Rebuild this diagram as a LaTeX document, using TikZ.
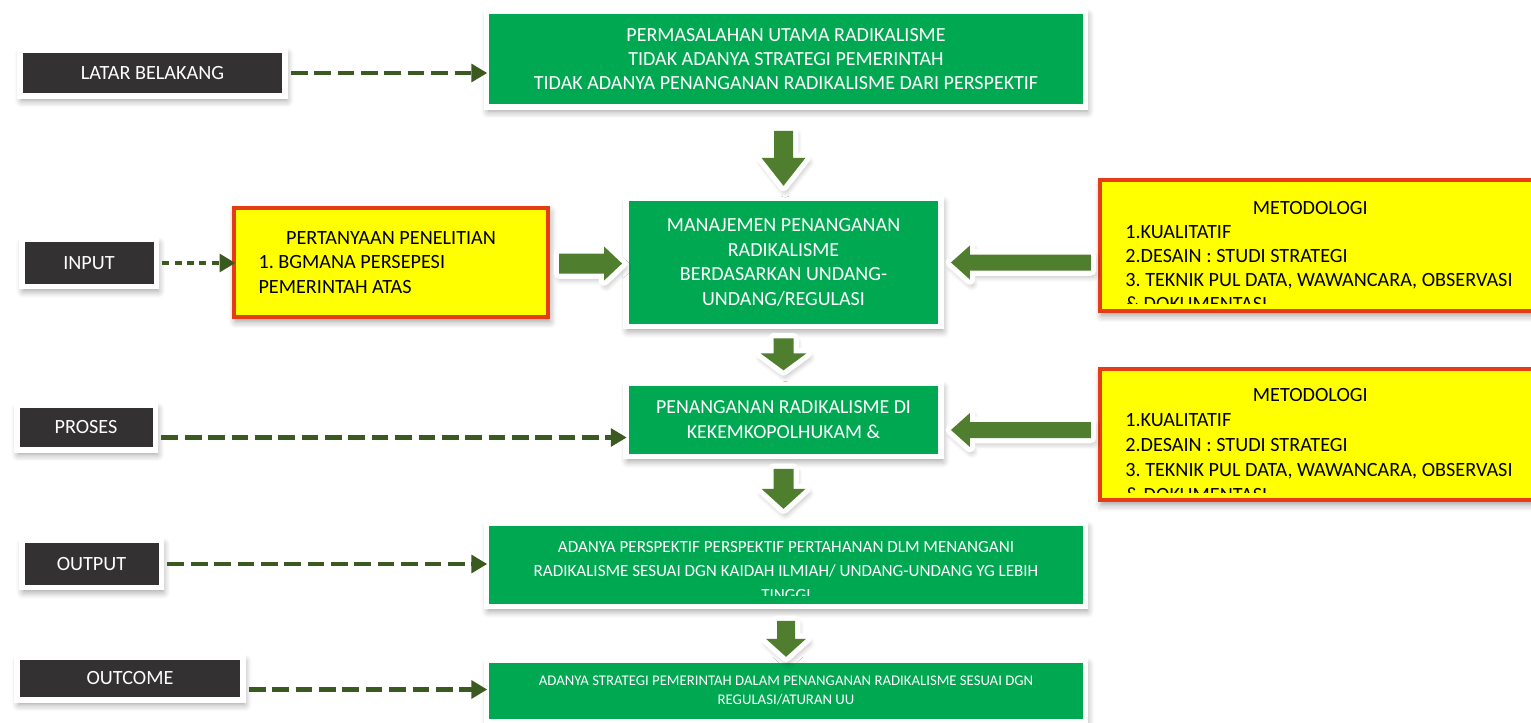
\documentclass[tikz,border=0pt]{standalone}
\usepackage{fontspec}
\setmainfont{Carlito}
\usetikzlibrary{calc}
\usetikzlibrary{arrows.meta}
\usetikzlibrary{shadows.blur}
\definecolor{boxgreen}{HTML}{00A852}
\definecolor{boxdark}{HTML}{333131}
\definecolor{boxyellow}{HTML}{FFFF00}
\definecolor{boxred}{HTML}{E63C16}
\definecolor{lineolive}{HTML}{3B5A22}
\definecolor{arrowgreen}{HTML}{4F7E2E}
\tikzset{softshadow/.style={blur shadow={shadow xshift=1pt, shadow yshift=-2.5pt, shadow blur radius=4pt, shadow blur steps=6, shadow opacity=40}}}
\tikzset{labelbox/.style={rectangle, fill=boxdark, draw=white, line width=3.4pt, text=white, inner sep=0pt, font=\fontsize{11.5}{13}\selectfont, softshadow}}
\tikzset{greenbox/.style={rectangle, fill=boxgreen, draw=white, line width=3.2pt, text=white, inner sep=0pt, align=center, softshadow}}
\tikzset{yellowbox/.style={rectangle, fill=boxyellow, draw=boxred, line width=2.4pt, inner sep=0pt, softshadow}}
\tikzset{metodetxt/.style={anchor=north west, inner sep=0pt, text width=8.2cm, align=flush left}}
\tikzset{dashconn/.style={draw=lineolive, line width=2.8pt, dash pattern=on 9.5pt off 3.8pt, shorten <=1.7pt, shorten >=-2pt, -{Triangle[length=9pt,width=10pt]}}}
\tikzset{dotconn/.style={dashconn, dash pattern=on 4pt off 3pt}}
\tikzset{blockarr/.style={fill=arrowgreen, preaction={draw=white, line width=6pt, line join=round, softshadow}}}
\tikzset{pics/blockarrow/.style n args={4}{code={
  \path[blockarr] (0,-#2) -- ({#1-#4},-#2) -- ({#1-#4},-#3) -- (#1,0) -- ({#1-#4},#3) -- ({#1-#4},#2) -- (0,#2) -- cycle;
}}}

\begin{document}
\frenchspacing
\begin{tikzpicture}[x=0.02cm,y=-0.02cm]
    \useasboundingbox (0,0) rectangle (1531,723);
    % labels on the left
    \foreach \x/\y/\w/\h/\lab/\tx in {
      152.5/73/5.3/0.92/latar/LATAR BELAKANG,
      89/263/2.7/0.94/input/INPUT,
      86/427.5/2.78/0.9/proses/PROSES,
      91.5/564/2.8/0.94/output/OUTPUT,
      130/678.5/4.52/0.86/outcome/OUTCOME%
    } {
      \node[labelbox, minimum width=\w cm, minimum height=\h cm] (\lab) at (\x, \y) {\tx};
    }

    % main column
    \node[greenbox, minimum width=11.98cm, minimum height=1.92cm, font=\fontsize{11.4}{13.6}\selectfont] (masalah) at (786,59)
      {PERMASALAHAN UTAMA RADIKALISME\\TIDAK ADANYA STRATEGI PEMERINTAH\\TIDAK ADANYA PENANGANAN RADIKALISME DARI PERSPEKTIF};
    \node[greenbox, minimum width=6.3cm, minimum height=2.56cm, font=\fontsize{11.4}{13.9}\selectfont] (manajemen) at (783.5,262.5)
      {MANAJEMEN PENANGANAN\\RADIKALISME\\BERDASARKAN UNDANG-\\UNDANG/REGULASI};
    \node[greenbox, minimum width=6.3cm, minimum height=1.46cm, font=\fontsize{11.3}{14.2}\selectfont] (penanganan) at (783.5,420)
      {PENANGANAN RADIKALISME DI\\KEKEMKOPOLHUKAM \&};
    \node[greenbox, minimum width=11.98cm, minimum height=1.66cm] (hasil) at (786,565) {};
    \begin{scope}
      \clip (hasil.north west) rectangle ($(hasil.south east)+(0,-14)$);
      \node[align=center, text=white, inner sep=0pt, font=\fontsize{9.7}{13.6}\selectfont] (hasiltxt) at (786,571)
        {ADANYA PERSPEKTIF PERSPEKTIF PERTAHANAN DLM MENANGANI\\RADIKALISME SESUAI DGN KAIDAH ILMIAH/ UNDANG-UNDANG YG LEBIH\\TINGGI};
    \end{scope}
    \node[greenbox, minimum width=11.98cm, minimum height=1.24cm, font=\fontsize{8.4}{10.8}\selectfont] (dampak) at (786,691)
      {ADANYA STRATEGI PEMERINTAH DALAM PENANGANAN RADIKALISME SESUAI DGN\\REGULASI/ATURAN UU};

    % yellow boxes
    \node[yellowbox, minimum width=6.28cm, minimum height=2.18cm, text width=5.3cm, align=flush left, font=\fontsize{11.5}{13.9}\selectfont] (tanya) at (391,262.5)
      {\makebox[5.3cm]{PERTANYAAN PENELITIAN}\par 1. BGMANA PERSEPESI\par PEMERINTAH ATAS};
    \node[yellowbox, minimum width=8.7cm, minimum height=2.62cm] (metode1) at (1317.5,245.5) {};
    \begin{scope}
      \clip (metode1.north west) rectangle ($(metode1.south east)+(0,-10)$);
      \node[metodetxt, font=\fontsize{11.5}{13.7}\selectfont] (metode1txt) at (1125,201)
        {\makebox[7.4cm]{METODOLOGI}\par 1.KUALITATIF\par 2.DESAIN : STUDI STRATEGI\par 3. TEKNIK PUL DATA, WAWANCARA, OBSERVASI\par \& DOKUMENTASI};
    \end{scope}
    \node[yellowbox, minimum width=8.7cm, minimum height=2.62cm] (metode2) at (1317.5,434.5) {};
    \begin{scope}
      \clip (metode2.north west) rectangle ($(metode2.south east)+(0,-10)$);
      \node[metodetxt, font=\fontsize{11.5}{14.2}\selectfont] (metode2txt) at (1125,388)
        {\makebox[7.4cm]{METODOLOGI}\par 1.KUALITATIF\par 2.DESAIN : STUDI STRATEGI\par 3. TEKNIK PUL DATA, WAWANCARA, OBSERVASI\par \& DOKUMENTASI};
    \end{scope}

    % block arrows
    \pic[rotate=-90] at ($(masalah.south -| manajemen.north)+(0,21)$) {blockarrow={55}{9.5}{22}{28}};
    \pic[rotate=-90] at ($(manajemen.south)+(0,9)$) {blockarrow={32}{10}{23}{17}};
    \pic[rotate=-90] at ($(penanganan.south)+(0,9.5)$) {blockarrow={40}{10}{22}{20}};
    \pic[rotate=-90] at ($(hasil.south)+(0,11.5)$) {blockarrow={36}{9}{20}{18}};
    \pic at ($(tanya.east)+(9,1)$) {blockarrow={63}{10}{17}{18}};
    \pic[rotate=180] at ($(metode1.west |- manajemen.east)+(-7,0)$) {blockarrow={140}{8}{17}{19}};
    \pic[rotate=180] at ($(metode2.west |- penanganan.east)+(-7,10)$) {blockarrow={140}{8}{17}{19}};

    % dashed connectors
    \coordinate (prosesout) at ($(proses.east)+(0,10)$);
    \coordinate (outcomeout) at ($(outcome.east)+(0,11)$);
    \draw[dashconn] (latar.east) -- (latar.east -| masalah.west);
    \draw[dotconn] (input.east) -- (input.east -| tanya.west);
    \draw[dashconn] (prosesout) -- (prosesout -| penanganan.west);
    \draw[dashconn] (output.east) -- (output.east -| hasil.west);
    \draw[dashconn] (outcomeout) -- (outcomeout -| dampak.west);
\end{tikzpicture}
\end{document}
